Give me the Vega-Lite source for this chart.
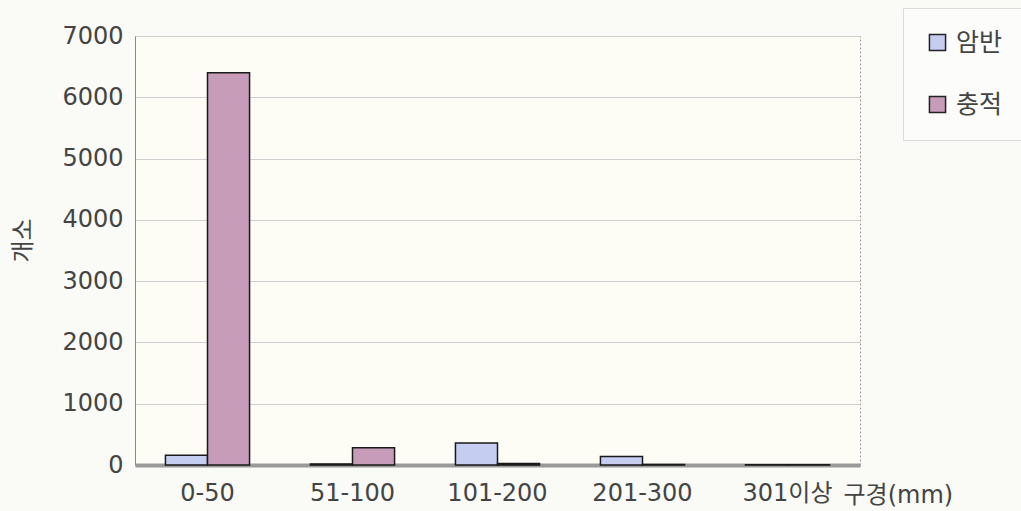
{
  "$schema": "https://vega.github.io/schema/vega-lite/v6.json",
  "autosize": {"type": "none"},
  "padding": {"left": 135, "top": 36, "right": 161, "bottom": 46},
  "width": 725,
  "height": 429,
  "background": "#fafaf7",
  "config": {
    "font": "'DejaVu Sans', 'Noto Sans CJK KR', sans-serif",
    "view": {"stroke": "#9a9a9a", "strokeDash": [2, 2], "fill": "#fdfdf6"}
  },
  "data": {
    "values": [
      {"range": "0-50", "type": "암반", "count": 160},
      {"range": "0-50", "type": "충적", "count": 6400},
      {"range": "51-100", "type": "암반", "count": 15},
      {"range": "51-100", "type": "충적", "count": 280},
      {"range": "101-200", "type": "암반", "count": 360},
      {"range": "101-200", "type": "충적", "count": 25},
      {"range": "201-300", "type": "암반", "count": 140},
      {"range": "201-300", "type": "충적", "count": 10},
      {"range": "301이상", "type": "암반", "count": 5},
      {"range": "301이상", "type": "충적", "count": 5}
    ]
  },
  "mark": {"type": "bar", "stroke": "#1a1a1a", "strokeWidth": 1.5},
  "encoding": {
    "x": {
      "field": "range",
      "type": "nominal",
      "sort": ["0-50", "51-100", "101-200", "201-300", "301이상"],
      "scale": {"paddingInner": 0.42, "paddingOuter": 0.21},
      "axis": {
        "title": "구경(mm)",
        "titleFontSize": 24,
        "titleFontWeight": "normal",
        "titleColor": "#444",
        "titleAngle": 0,
        "titleAlign": "left",
        "titleBaseline": "middle",
        "titleX": 708,
        "titleY": 30,
        "labelAngle": 0,
        "labelFontSize": 24,
        "labelColor": "#444",
        "labelPadding": 16,
        "ticks": false,
        "domainColor": "#999",
        "domainWidth": 4
      }
    },
    "xOffset": {"field": "type", "type": "nominal", "sort": ["암반", "충적"]},
    "y": {
      "field": "count",
      "type": "quantitative",
      "scale": {"domain": [0, 7000], "nice": false},
      "axis": {
        "title": "개소",
        "titleFontSize": 24,
        "titleFontWeight": "normal",
        "titleColor": "#444",
        "titleX": -112,
        "titleY": 204,
        "titleAlign": "center",
        "titleBaseline": "middle",
        "values": [0, 1000, 2000, 3000, 4000, 5000, 6000, 7000],
        "format": "d",
        "labelFontSize": 24,
        "labelColor": "#444",
        "labelPadding": 12,
        "labelOverlap": false,
        "ticks": false,
        "domainColor": "#888",
        "gridColor": "#cfcfcf",
        "gridWidth": 1
      }
    },
    "color": {
      "field": "type",
      "type": "nominal",
      "sort": ["암반", "충적"],
      "scale": {"domain": ["암반", "충적"], "range": ["#c5cdf0", "#c79cb8"]},
      "legend": {
        "title": null,
        "orient": "none",
        "legendX": 768,
        "legendY": -28,
        "symbolType": "square",
        "symbolSize": 260,
        "symbolStrokeColor": "#222",
        "symbolStrokeWidth": 1.5,
        "labelFontSize": 25,
        "labelColor": "#444",
        "labelFont": "'Noto Sans CJK KR', sans-serif",
        "rowPadding": 36,
        "padding": 22,
        "strokeColor": "#dcdcdc",
        "fillColor": "#fcfcfa",
        "labelOffset": 6
      }
    }
  }
}
